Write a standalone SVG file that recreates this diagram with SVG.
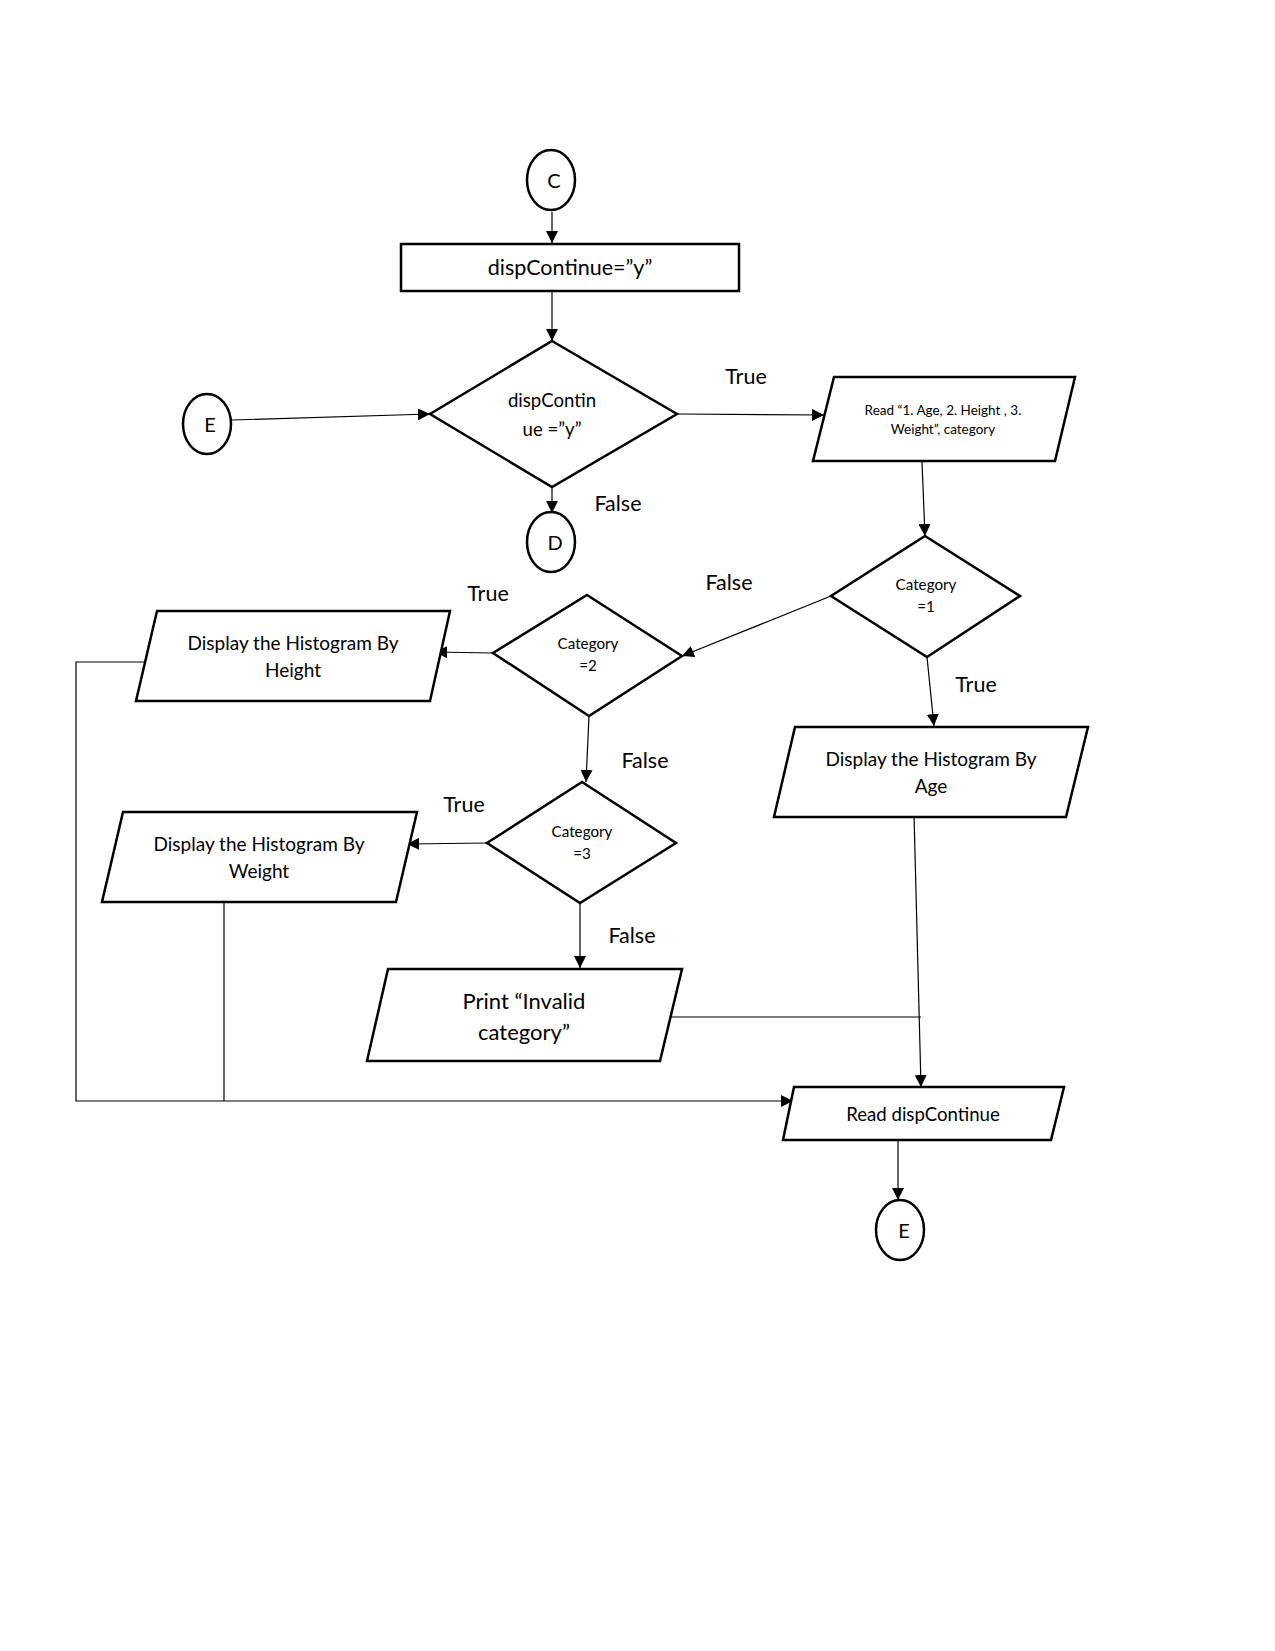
<svg xmlns="http://www.w3.org/2000/svg" width="1275" height="1651" viewBox="0 0 1275 1651">
<style>
.s{fill:#fff;stroke:#000;stroke-width:2.5}
.c{fill:none;stroke:#000;stroke-width:1.2}
.a{marker-end:url(#ah)}
text{font-family:Lato,"Liberation Sans",sans-serif;fill:#000;text-anchor:middle}
.t20{font-size:21.5px}
.tp{font-size:22px}
.t18{font-size:18.6px}
.td{font-size:19px}
.tc{font-size:20px}
.t14{font-size:15.2px}
.t13{font-size:13.5px}
.lb{font-size:21.5px}
</style>
<defs>
<marker id="ah" viewBox="0 0 10 10" refX="10" refY="5" markerWidth="12" markerHeight="12" markerUnits="userSpaceOnUse" orient="auto">
<path d="M0,0 L10,5 L0,10 z" fill="#000"/>
</marker>
</defs>
<rect width="1275" height="1651" fill="#fff"/>
<g id="connectors">
<line class="c a" x1="552" y1="212" x2="552" y2="243"/>
<line class="c a" x1="552" y1="292" x2="552" y2="341"/>
<line class="c a" x1="232" y1="420" x2="430" y2="414"/>
<line class="c a" x1="552" y1="487" x2="552" y2="513"/>
<line class="c a" x1="677" y1="414" x2="824" y2="415"/>
<line class="c a" x1="922" y1="462" x2="925" y2="536"/>
<line class="c a" x1="831" y1="596" x2="682" y2="656"/>
<line class="c a" x1="493" y1="653" x2="435" y2="652"/>
<line class="c a" x1="927" y1="657" x2="934" y2="726"/>
<line class="c a" x1="589" y1="716" x2="586" y2="782"/>
<line class="c a" x1="487" y1="843" x2="407" y2="844"/>
<line class="c a" x1="580" y1="903" x2="580" y2="968"/>
<polyline class="c a" points="152,662 76,662 76,1101 793,1101"/>
<line class="c" x1="224" y1="903" x2="224" y2="1101"/>
<line class="c" x1="671" y1="1017" x2="921" y2="1017"/>
<line class="c a" x1="914" y1="814" x2="921" y2="1087"/>
<line class="c a" x1="898" y1="1141" x2="898" y2="1200"/>
<text class="lb" x="746" y="384">True</text>
<text class="lb" x="618" y="511">False</text>
<text class="lb" x="729" y="590">False</text>
<text class="lb" x="488" y="601">True</text>
<text class="lb" x="976" y="692">True</text>
<text class="lb" x="645" y="768">False</text>
<text class="lb" x="464" y="812">True</text>
<text class="lb" x="632" y="943">False</text>
</g>
<g id="nodeC">
<ellipse class="s" cx="551" cy="180" rx="24" ry="30"/>
<text class="tc" x="554" y="188">C</text>
</g>
<g id="nodeInit">
<rect class="s" x="401" y="244" width="338" height="47"/>
<text class="t20" x="570" y="275">dispContinue=”y”</text>
</g>
<g id="nodeDec0">
<polygon class="s" points="552,341 677,414 552,487 430,414"/>
<text class="t18" x="552" y="407">dispContin</text>
<text class="t18" x="552" y="436">ue =”y”</text>
</g>
<g id="nodeE1">
<ellipse class="s" cx="207" cy="424" rx="24" ry="30"/>
<text class="tc" x="210" y="432">E</text>
</g>
<g id="nodeD">
<ellipse class="s" cx="551" cy="542" rx="24" ry="30"/>
<text class="tc" x="555" y="550">D</text>
</g>
<g id="nodeReadCat">
<polygon class="s" points="834,377 1075,377 1055,461 813,461"/>
<text class="t13" x="943" y="415">Read “1. Age, 2. Height , 3.</text>
<text class="t13" x="943" y="434">Weight”, category</text>
</g>
<g id="nodeCat1">
<polygon class="s" points="925,536 1020,596 927,657 831,596"/>
<text class="t14" x="926" y="590">Category</text>
<text class="t14" x="926" y="612">=1</text>
</g>
<g id="nodeCat2">
<polygon class="s" points="587,595 682,656 589,716 493,653"/>
<text class="t14" x="588" y="649">Category</text>
<text class="t14" x="588" y="671">=2</text>
</g>
<g id="nodeHeight">
<polygon class="s" points="157,611 450,611 430,701 136,701"/>
<text class="td" x="293" y="650">Display the Histogram By</text>
<text class="td" x="293" y="677">Height</text>
</g>
<g id="nodeAge">
<polygon class="s" points="795,727 1088,727 1066,817 774,817"/>
<text class="td" x="931" y="766">Display the Histogram By</text>
<text class="td" x="931" y="793">Age</text>
</g>
<g id="nodeCat3">
<polygon class="s" points="582,782 676,843 580,903 487,843"/>
<text class="t14" x="582" y="837">Category</text>
<text class="t14" x="582" y="859">=3</text>
</g>
<g id="nodeWeight">
<polygon class="s" points="123,812 417,812 396,902 102,902"/>
<text class="td" x="259" y="851">Display the Histogram By</text>
<text class="td" x="259" y="878">Weight</text>
</g>
<g id="nodePrint">
<polygon class="s" points="388,969 682,969 660,1061 367,1061"/>
<text class="tp" x="524" y="1009">Print “Invalid</text>
<text class="tp" x="524" y="1040">category”</text>
</g>
<g id="nodeReadCont">
<polygon class="s" points="794,1087 1064,1087 1051,1140 783,1140"/>
<text class="t18" x="923" y="1121">Read dispContinue</text>
</g>
<g id="nodeE2">
<ellipse class="s" cx="900" cy="1230" rx="24" ry="30"/>
<text class="tc" x="904" y="1238">E</text>
</g>
</svg>
